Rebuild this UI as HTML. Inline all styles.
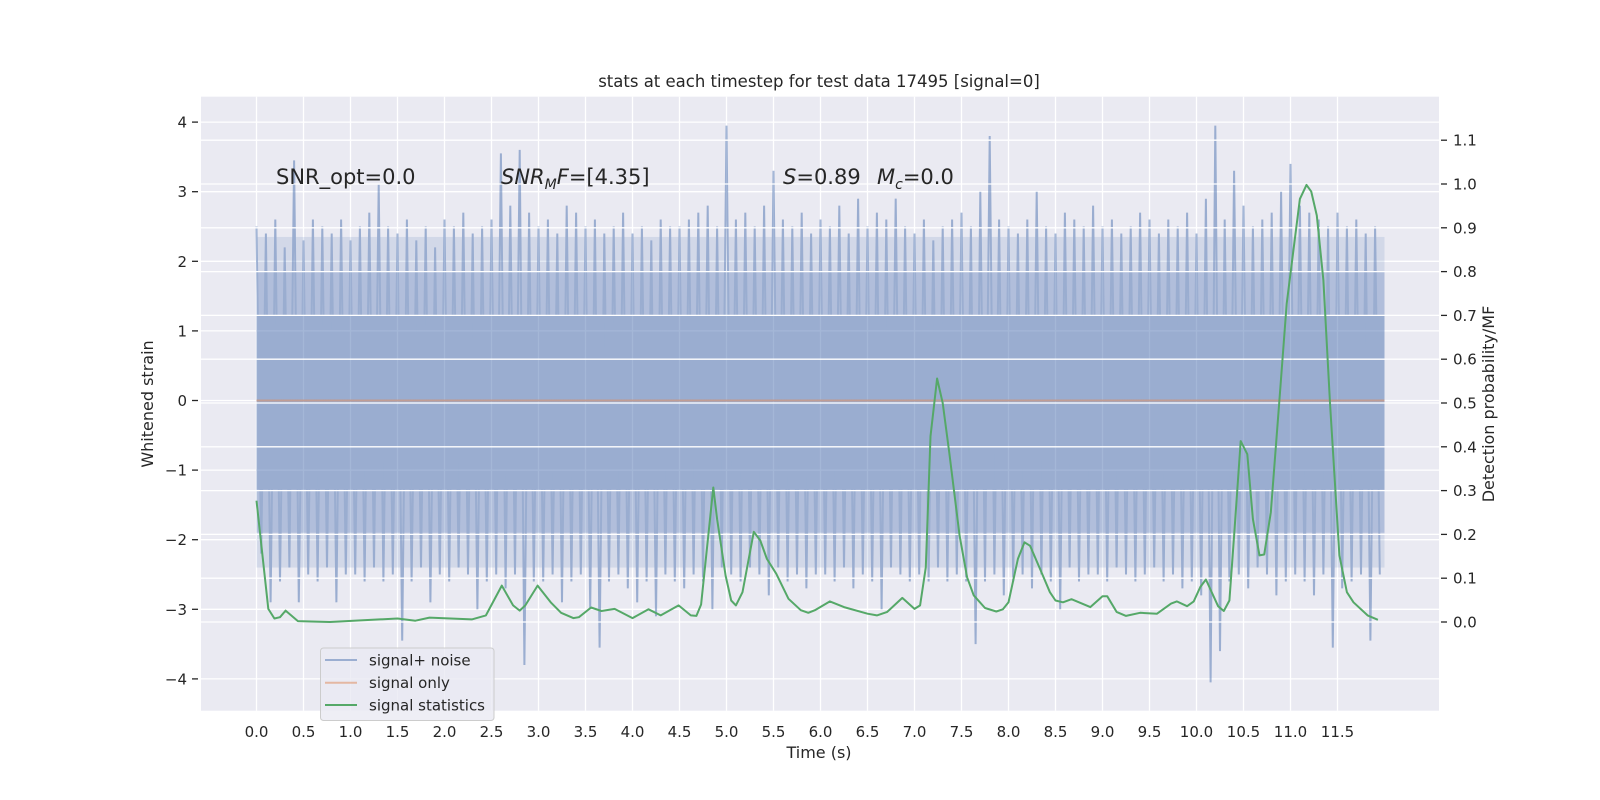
<!DOCTYPE html>
<html><head><meta charset="utf-8"><style>
body{margin:0;background:#fff;}
svg{display:block;font-family:"DejaVu Sans","Liberation Sans",sans-serif;}
</style></head><body>
<svg id="chart" width="1600" height="800" viewBox="0 0 1600 800">
<rect x="201" y="96.7" width="1238" height="614" fill="#eaeaf2"/>
<g id="gridUnder"></g>
<g id="noise" opacity="0.5"></g>
<g id="gridOver"></g>
<g id="lines"></g>
<g id="axes"></g>
<text x="819" y="87" font-size="16.5" text-anchor="middle" fill="#262626">stats at each timestep for test data 17495 [signal=0]</text>
<text x="819" y="758" font-size="16" text-anchor="middle" fill="#262626">Time (s)</text>
<text transform="translate(153,404) rotate(-90)" font-size="16" text-anchor="middle" fill="#262626">Whitened strain</text>
<text transform="translate(1494,404) rotate(-90)" font-size="16" text-anchor="middle" fill="#262626">Detection probability/MF</text>
<text x="276" y="184" font-size="21" fill="#262626">SNR_opt=0.0</text>
<text x="501" y="184" font-size="21" fill="#262626"><tspan font-style="italic">SNR</tspan><tspan font-style="italic" font-size="14" dy="5">M</tspan><tspan font-style="italic" dy="-5">F</tspan>=[4.35]</text>
<text x="783" y="184" font-size="21" fill="#262626"><tspan font-style="italic">S</tspan>=0.89</text>
<text x="877" y="184" font-size="21" fill="#262626"><tspan font-style="italic">M</tspan><tspan font-style="italic" font-size="14" dy="5">c</tspan><tspan dy="-5">=0.0</tspan></text>
<g>
<rect x="320.5" y="648" width="173.5" height="72.5" rx="3" fill="#eaeaf2" fill-opacity="0.8" stroke="#cccccc" stroke-width="1"/>
<line x1="325" y1="660" x2="357" y2="660" stroke="#4c72b0" stroke-opacity="0.5" stroke-width="2"/>
<text x="369" y="665.5" font-size="15" fill="#262626">signal+ noise</text>
<line x1="325" y1="682.7" x2="357" y2="682.7" stroke="#dd8452" stroke-opacity="0.5" stroke-width="2"/>
<text x="369" y="688" font-size="15" fill="#262626">signal only</text>
<line x1="325" y1="705" x2="357" y2="705" stroke="#55a868" stroke-width="2"/>
<text x="369" y="710.5" font-size="15" fill="#262626">signal statistics</text>
</g>
</svg>
<script>
const noiseHi=[2.5,2.4,2.6,2.2,3.45,2.3,2.6,2.5,2.4,2.6,
2.3,2.5,2.7,3.1,2.5,2.4,2.6,2.3,2.5,2.2,
2.6,2.5,2.7,2.4,2.5,2.6,3.55,2.8,3.6,2.7,
2.5,2.6,2.4,2.8,2.7,2.5,2.6,2.4,2.5,2.7,
2.4,2.5,2.3,2.6,2.5,2.5,2.6,2.7,2.8,2.5,
3.95,2.6,2.7,2.5,2.8,3.3,2.6,2.5,2.7,2.4,
2.6,2.5,2.8,2.4,2.9,2.5,2.7,2.6,2.9,2.5,
2.4,2.6,2.3,2.5,2.6,2.7,2.5,3.0,3.8,2.6,
2.5,2.4,2.6,3.0,2.5,2.4,2.7,2.6,2.5,2.8,
2.5,2.6,2.4,2.5,2.7,2.6,2.4,2.6,2.5,2.7,
2.4,2.9,3.95,2.6,3.3,2.8,2.5,2.6,2.7,3.0,
3.4,2.8,2.7,2.6,2.5,2.7,2.5,2.6,2.4,2.5];
const noiseLo=[-2.2,-2.9,-2.6,-2.4,-2.9,-2.5,-2.6,-2.4,-2.9,-2.5,
-2.5,-2.6,-2.4,-2.6,-2.5,-3.45,-2.6,-2.4,-2.9,-2.5,
-2.6,-2.4,-2.5,-3.0,-2.6,-2.5,-2.7,-2.5,-3.8,-2.6,
-2.6,-2.5,-2.9,-2.6,-2.5,-3.0,-3.55,-2.6,-2.5,-2.7,
-2.9,-2.6,-3.1,-2.5,-2.6,-2.7,-2.5,-2.6,-3.0,-2.4,
-2.5,-2.6,-2.4,-2.5,-2.8,-2.4,-2.6,-2.5,-2.7,-2.5,
-2.5,-2.6,-2.4,-2.7,-2.5,-2.6,-3.0,-2.4,-2.5,-2.6,
-2.5,-2.6,-2.4,-2.6,-2.5,-2.6,-3.5,-2.6,-2.5,-2.8,
-2.6,-2.5,-2.7,-2.5,-2.6,-3.0,-2.4,-2.6,-2.5,-2.5,
-2.6,-2.4,-2.5,-2.6,-2.5,-2.4,-2.6,-2.5,-2.7,-2.6,
-2.8,-4.05,-3.6,-2.6,-2.5,-2.7,-2.4,-2.5,-2.8,-2.6,
-2.5,-2.6,-2.8,-2.5,-3.55,-2.7,-2.6,-2.5,-3.45,-2.5];
const noiseStep=0.1;
const coreBand=[-1.28,1.22];
const denseBand=[-1.9,1.85];
const sparseBand=[-2.4,2.35];
const statTimes=[0,0.125,0.19,0.25,0.31,0.44,0.78,1.5,1.69,1.84,2.29,2.44,2.61,2.73,2.8,2.86,2.99,3.13,3.24,3.37,3.43,3.56,3.67,3.81,4.0,4.17,4.3,4.49,4.62,4.68,4.73,4.86,4.9,4.99,5.05,5.1,5.17,5.29,5.36,5.43,5.53,5.66,5.79,5.87,5.94,6.1,6.25,6.5,6.6,6.71,6.87,7.0,7.06,7.12,7.17,7.24,7.3,7.37,7.48,7.56,7.63,7.75,7.87,7.94,8.0,8.1,8.17,8.23,8.35,8.44,8.5,8.58,8.67,8.75,8.87,9.0,9.05,9.15,9.25,9.4,9.58,9.73,9.79,9.9,9.97,10.04,10.1,10.23,10.29,10.35,10.4,10.47,10.54,10.6,10.67,10.72,10.79,10.88,10.96,11.1,11.17,11.22,11.28,11.35,11.42,11.52,11.6,11.67,11.82,11.93];
const statValues=[0.277,0.03,0.008,0.011,0.026,0.002,0.0,0.008,0.003,0.01,0.006,0.015,0.083,0.038,0.026,0.038,0.083,0.045,0.021,0.009,0.011,0.033,0.025,0.03,0.009,0.029,0.015,0.038,0.015,0.014,0.04,0.307,0.235,0.106,0.049,0.038,0.068,0.206,0.186,0.144,0.11,0.053,0.027,0.021,0.027,0.047,0.034,0.019,0.015,0.023,0.055,0.03,0.038,0.125,0.424,0.556,0.5,0.386,0.197,0.102,0.061,0.032,0.024,0.029,0.045,0.144,0.182,0.174,0.114,0.068,0.049,0.045,0.052,0.045,0.034,0.059,0.059,0.023,0.014,0.021,0.019,0.042,0.047,0.036,0.047,0.08,0.097,0.036,0.025,0.049,0.197,0.413,0.383,0.235,0.152,0.154,0.25,0.5,0.727,0.966,0.998,0.983,0.928,0.78,0.5,0.152,0.068,0.045,0.015,0.005];
const signalOnly=[0,0];
const xTicks=["0.0","0.5","1.0","1.5","2.0","2.5","3.0","3.5","4.0","4.5","5.0","5.5","6.0","6.5","7.0","7.5","8.0","8.5","9.0","9.5","10.0","10.5","11.0","11.5"];
const yTicks=["−4","−3","−2","−1","0","1","2","3","4"];
const yTickVals=[-4,-3,-2,-1,0,1,2,3,4];
const rTicks=["0.0","0.1","0.2","0.3","0.4","0.5","0.6","0.7","0.8","0.9","1.0","1.1"];
const rTickVals=[0,0.1,0.2,0.3,0.4,0.5,0.6,0.7,0.8,0.9,1.0,1.1];

const X=t=>256.5+94*t, Y=s=>400.5-69.6*s, R=v=>622-438*v;
const L=201,RT=1439,T=96.7,B=710.7;
const NS="http://www.w3.org/2000/svg";
function mk(tag,attrs,parent){const e=document.createElementNS(NS,tag);for(const k in attrs)e.setAttribute(k,attrs[k]);parent.appendChild(e);return e;}
const gU=document.getElementById('gridUnder'),gO=document.getElementById('gridOver'),gN=document.getElementById('noise'),gL=document.getElementById('lines'),gA=document.getElementById('axes');
xTicks.forEach(s=>{const x=X(parseFloat(s));
 const g=mk('line',{x1:x,x2:x,y1:T,y2:B,stroke:'#fff','stroke-width':1.3},gU);
 
 
 const tx=mk('text',{x:x,y:737,'font-size':15,'text-anchor':'middle',fill:'#262626'},gA);tx.textContent=s;
 
 
});
yTickVals.forEach((v,i)=>{const y=Y(v);
 const g=mk('line',{x1:L,x2:RT,y1:y,y2:y,stroke:'#fff','stroke-width':1.3},gU);
 
 
 mk('line',{x1:192,x2:198,y1:y,y2:y,stroke:'#262626','stroke-width':1.3},gA);
 const tx=mk('text',{x:187,y:y+5.5,'font-size':15,'text-anchor':'end',fill:'#262626'},gA);tx.textContent=yTicks[i];
 
 
});
rTickVals.forEach((v,i)=>{const y=R(v);
 const g=mk('line',{x1:L,x2:RT,y1:y,y2:y,stroke:'#fff','stroke-width':1.3},gO);
 
 
 mk('line',{x1:1441,x2:1447,y1:y,y2:y,stroke:'#262626','stroke-width':1.3},gA);
 const tx=mk('text',{x:1453,y:y+5.5,'font-size':15,fill:'#262626'},gA);tx.textContent=rTicks[i];
 
 
});
// noise
const x0=X(0), x1=X(noiseHi.length*noiseStep);
const sb=mk('rect',{x:x0,y:Y(sparseBand[1]),width:x1-x0,height:Y(sparseBand[0])-Y(sparseBand[1]),fill:'#4c72b0','fill-opacity':0.3},gN);


const db=mk('rect',{x:x0,y:Y(denseBand[1]),width:x1-x0,height:Y(denseBand[0])-Y(denseBand[1]),fill:'#4c72b0','fill-opacity':0.6},gN);


const core=mk('rect',{x:x0,y:Y(coreBand[1]),width:x1-x0,height:Y(coreBand[0])-Y(coreBand[1]),fill:'#4c72b0'},gN);


let d='';
noiseHi.forEach((h,i)=>{const t=i*noiseStep;
 d+=(i?'L':'M')+X(t).toFixed(1)+' '+Y(h).toFixed(1)+'L'+X(t+noiseStep/2).toFixed(1)+' '+Y(noiseLo[i]).toFixed(1);});
const np=mk('path',{d:d,fill:'none',stroke:'#4c72b0','stroke-width':2},gN);


// signal only
const so=mk('line',{x1:x0,x2:x1,y1:Y(signalOnly[0]),y2:Y(signalOnly[1]),stroke:'#dd8452','stroke-opacity':0.5,'stroke-width':2},gL);


// stats
const pts=statTimes.map((t,i)=>X(t).toFixed(1)+','+R(statValues[i]).toFixed(1)).join(' ');
const st=mk('polyline',{points:pts,fill:'none',stroke:'#55a868','stroke-width':2,'stroke-linejoin':'round'},gL);


</script>
</body></html>
